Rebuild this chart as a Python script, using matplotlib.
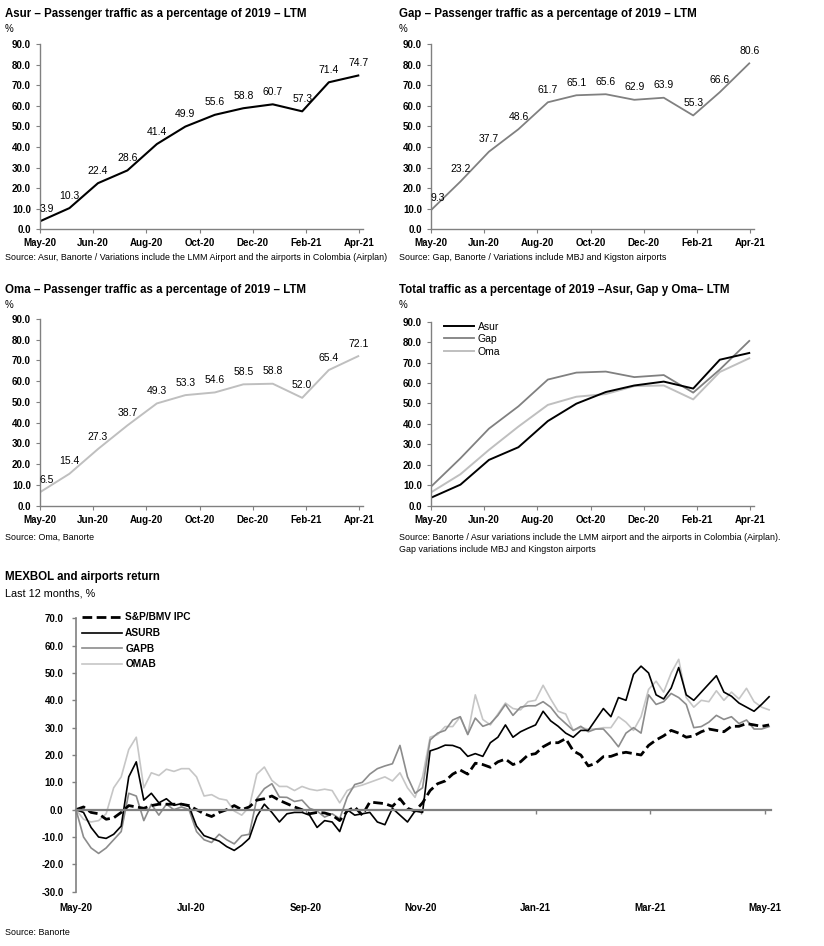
# Tráfego de passageiros e retorno de aeroportos
import matplotlib
matplotlib.use("Agg")
import matplotlib.pyplot as plt
from matplotlib import font_manager
import pandas as pd
import numpy as np

# Fontes
nomes = {f.name for f in font_manager.fontManager.ttflist}
TEM_NARROW = "Liberation Sans Narrow" in nomes
estreita = "Liberation Sans Narrow" if TEM_NARROW else "Liberation Sans"
plt.rcParams["font.family"] = ["Liberation Sans", "DejaVu Sans"]

# Tráfego LTM como % de 2019 (mensal)
meses = pd.date_range("2020-05-01", periods=12, freq="MS")
asur = [3.9, 10.3, 22.4, 28.6, 41.4, 49.9, 55.6, 58.8, 60.7, 57.3, 71.4, 74.7]
gap = [9.3, 23.2, 37.7, 48.6, 61.7, 65.1, 65.6, 62.9, 63.9, 55.3, 66.6, 80.6]
oma = [6.5, 15.4, 27.3, 38.7, 49.3, 53.3, 54.6, 58.5, 58.8, 52.0, 65.4, 72.1]

# Retorno últimos 12 meses (%)
dias = pd.date_range("2020-05-04", periods=93, freq="4D")
ipc = [0, 1, -1, -1.5, -3.5, -3, -1, 1.5, 1, 0.5, 1.5, 2, 2, 2, 2, 1.5, 0, -1.5, -2.5, -1, 0, 1.5, 0, 1,
       3.5, 4, 5, 3.4, 2.2, 1, 0, -1.5, -1, -1.2, -2, -4, -0.5, 1, -2, 2.8, 2.5, 2.2, 1.2, 4, 0.5, -0.5,
       2.5, 7, 9.5, 10.5, 13, 14.5, 13, 17, 16.5, 15.5, 17.5, 18.5, 16.5, 17.5, 20, 20.5, 23, 24.5, 24.5, 26, 21.5, 20, 16,
       17, 19.4, 19.5, 20.5, 21, 20.5, 20, 23.5, 25.5, 27, 29, 28, 26.5, 27, 28.5, 29.5, 29, 28.5, 30.5, 30.5, 31.5, 31, 30.5, 31]
asurb = [0, -1, -6.5, -10, -10.5, -9, -6, 12, 17.5, 3.5, 6, 2.5, 4, 1.6, 2.2, 1.2, -6, -9.5, -10.5, -11.5, -13.5, -14.9, -13, -10.5,
         -2.5, 2, -1, -4.5, -1.5, -1, -1, -2, -6.5, -4, -4.5, -8, 0, -2, -1.5, -1, -4.5, -5.5, 0.5, -2, -4.5, -0.5,
         -1, 21.5, 22.4, 23.6, 23.5, 22.5, 19.5, 20.5, 19.5, 24.5, 26.5, 31, 26.5, 28.5, 29.8, 31, 36, 32.5, 30.5, 28, 26.5, 29, 29,
         33, 37, 34, 41, 40, 49.5, 52.5, 50, 42, 40.5, 44.5, 52, 42, 40, 43, 46, 49, 43, 41.5, 39, 37.5, 36, 38.5, 41.3]
gapb = [0, -10, -14, -16, -14, -11, -8, 6, 5, -4, 2, -2, 2, 0, 1, 0, -8, -11, -12, -9, -11, -12.5, -9.5, -9,
        4, 7.7, 9.5, 4.6, 4.5, 3, 3.5, 0.5, -0.5, -2.7, -1.5, -3.3, 4.6, 9.2, 10, 13, 15, 16, 16.8, 23.5, 12, 6,
        8, 25.5, 28, 29, 32.8, 34, 27.5, 33.5, 30.5, 31.5, 34.5, 38.5, 34.5, 37.5, 38, 38, 39.5, 37.5, 34, 31.5, 29, 30.5, 28.5,
        29.5, 29.5, 26.5, 23, 28, 30, 28, 42, 38.5, 39.5, 42.5, 41, 38.5, 30, 30.4, 32, 34.5, 33, 34, 31.5, 32.8, 29.5, 29.5, 30.4]
omab = [0, -3.5, -4.5, -4, -1.5, 8, 12, 22, 26.5, 8, 13.5, 12.5, 14.8, 14, 15, 15, 12, 5, 5.5, 4, 3.5, -0.5, -2, 1,
        13, 15.6, 10.7, 8.5, 8.5, 7, 8.5, 7.5, 7, 7.5, 7, 2.5, 7, 8.3, 9, 10, 11, 12, 10.5, 13.5, 8, 4.5,
        12, 26.5, 27.5, 30.4, 30.4, 34, 27.5, 42, 33, 31, 35, 39, 37, 36.5, 39.5, 40, 45.5, 40.5, 36, 35, 29, 30, 29.5,
        29.5, 30, 30, 34, 32, 29, 34, 44, 47, 43, 50, 55, 41, 37.5, 40, 39.5, 43.5, 40, 43, 40.5, 44.4, 39.5, 37.5, 36.5]

PRETO = "#000000"
CINZA = "#808080"
CLARO = "#bfbfbf"
EIXO = "#808080"

W, H = 824, 946
fig = plt.figure(figsize=(W / 100, H / 100), dpi=100)


def eixo_px(esq, topo, dir, base):
    return fig.add_axes([esq / W, 1 - base / H, (dir - esq) / W, (base - topo) / H])


def texto(x, y, s, **kw):
    fig.text(x / W, 1 - y / H, s, va="center", ha="left", **kw)


def estilo_pequeno(ax):
    ax.set_ylim(0, 90)
    ys = np.arange(0, 91, 10)
    ax.set_yticks(ys, labels=[f"{v:.1f}" for v in ys], fontweight="bold", fontsize=7)
    inicio = pd.Timestamp("2020-05-01")
    ax.set_xlim(inicio, pd.Timestamp("2021-04-06"))
    xs = [inicio + pd.Timedelta(days=56 * k) for k in range(7)]
    ax.set_xticks(xs, labels=[d.strftime("%b-%y") for d in xs], fontweight="bold", fontsize=7)
    for lado in ["top", "right"]:
        ax.spines[lado].set_visible(False)
    for lado in ["left", "bottom"]:
        ax.spines[lado].set_color(EIXO)
        ax.spines[lado].set_linewidth(1.0)
    ax.tick_params(direction="out", length=3, width=0.8, color=EIXO, pad=3.5)
    ax.set_facecolor("none")


def rotulos(ax, valores):
    for i, (d, v) in enumerate(zip(meses, valores)):
        ax.annotate(f"{v:.1f}", (d, v), xytext=(5 if i == 0 else 0, 9), textcoords="offset points",
                    ha="center", va="center", fontsize=7.5)


tam_titulo = 9.2 if TEM_NARROW else 8.3
tam_fonte = 6.4

# Painel Asur
ax1 = eixo_px(40, 44, 363, 229.3)
ax1.plot(meses, asur, color=PRETO, lw=1.5)
rotulos(ax1, asur)
estilo_pequeno(ax1)
texto(5, 14, "Asur – Passenger traffic as a percentage of 2019 – LTM", family=estreita, fontweight="bold", fontsize=tam_titulo)
texto(5, 29, "%", fontsize=7)
texto(5, 257, "Source: Asur, Banorte / Variations include the LMM Airport and the airports in Colombia (Airplan)", fontsize=tam_fonte)

# Painel Gap
ax2 = eixo_px(431, 44, 754, 229.3)
ax2.plot(meses, gap, color=CINZA, lw=1.3)
rotulos(ax2, gap)
estilo_pequeno(ax2)
texto(399, 14, "Gap – Passenger traffic as a percentage of 2019 – LTM", family=estreita, fontweight="bold", fontsize=tam_titulo)
texto(399, 29, "%", fontsize=7)
texto(399, 257, "Source: Gap, Banorte / Variations include MBJ and Kigston airports", fontsize=tam_fonte)

# Painel Oma
ax3 = eixo_px(40, 319, 363, 505.7)
ax3.plot(meses, oma, color=CLARO, lw=1.4)
rotulos(ax3, oma)
estilo_pequeno(ax3)
texto(5, 290, "Oma – Passenger traffic as a percentage of 2019 – LTM", family=estreita, fontweight="bold", fontsize=tam_titulo)
texto(5, 305, "%", fontsize=7)
texto(5, 537, "Source: Oma, Banorte", fontsize=tam_fonte)

# Painel total
ax4 = eixo_px(431, 321.7, 754, 505.7)
ax4.plot(meses, oma, color=CLARO, lw=1.4, label="Oma")
ax4.plot(meses, gap, color=CINZA, lw=1.3, label="Gap")
ax4.plot(meses, asur, color=PRETO, lw=1.4, label="Asur")
estilo_pequeno(ax4)
h, l = ax4.get_legend_handles_labels()
ax4.legend(h[::-1], l[::-1], loc="upper left", bbox_to_anchor=(444 / W, 1 - 321.5 / H),
           bbox_transform=fig.transFigure, frameon=False, fontsize=7.5, handlelength=2.9,
           handletextpad=0.35, labelspacing=0.25, borderpad=0, borderaxespad=0)
texto(399, 290, "Total traffic as a percentage of 2019 –Asur, Gap y Oma– LTM", family=estreita, fontweight="bold", fontsize=tam_titulo)
texto(399, 305, "%", fontsize=7)
texto(399, 537, "Source: Banorte / Asur variations include the LMM airport and the airports in Colombia (Airplan).", fontsize=tam_fonte)
texto(399, 549, "Gap variations include MBJ and Kingston airports", fontsize=tam_fonte)

# Painel retorno
ax5 = eixo_px(76, 618.3, 771, 891.7)
ax5.plot(dias, omab, color="#c6c6c6", lw=1.2, label="OMAB")
ax5.plot(dias, gapb, color="#8c8c8c", lw=1.2, label="GAPB")
ax5.plot(dias, asurb, color=PRETO, lw=1.2, label="ASURB")
ax5.plot(dias, ipc, color=PRETO, lw=2.0, ls=(0, (3.5, 1.6)), label="S&P/BMV IPC")
# eixo x cruzando no zero (antes de definir os ticks)
for lado in ["top", "right"]:
    ax5.spines[lado].set_visible(False)
ax5.spines["bottom"].set_position(("data", 0))
ax5.spines["bottom"].set_color(EIXO)
ax5.spines["bottom"].set_linewidth(1.6)
ax5.spines["left"].set_color(EIXO)
ax5.spines["left"].set_linewidth(1.2)
ax5.set_ylim(-30, 70)
ys = np.arange(-30, 71, 10)
ax5.set_yticks(ys, labels=[f"{v:.1f}" for v in ys], fontweight="bold", fontsize=7)
ini = pd.Timestamp("2020-05-04")
ax5.set_xlim(ini, ini + pd.Timedelta(days=369))
xs = [ini + pd.Timedelta(days=61 * k) for k in range(7)]
ax5.set_xticks(xs, labels=[d.strftime("%b-%y") for d in xs], fontweight="bold", fontsize=7)
ax5.tick_params(axis="y", direction="out", length=3, width=1, color=EIXO, pad=6)
ax5.tick_params(axis="x", direction="out", length=3, width=1, color=EIXO, pad=64)
ax5.set_facecolor("none")
h, l = ax5.get_legend_handles_labels()
ax5.legend(h[::-1], l[::-1], loc="upper left", bbox_to_anchor=(82 / W, 1 - 612.5 / H),
           bbox_transform=fig.transFigure, frameon=False, prop={"weight": "bold", "size": 7.3},
           handlelength=3.9, handletextpad=0.36, labelspacing=0.55, borderpad=0, borderaxespad=0)
texto(5, 577, "MEXBOL and airports return", family=estreita, fontweight="bold", fontsize=tam_titulo)
texto(5, 593, "Last 12 months, %", family=estreita, fontsize=7.8)
texto(5, 932, "Source: Banorte", fontsize=tam_fonte)

fig.savefig("out.png", dpi=100)
